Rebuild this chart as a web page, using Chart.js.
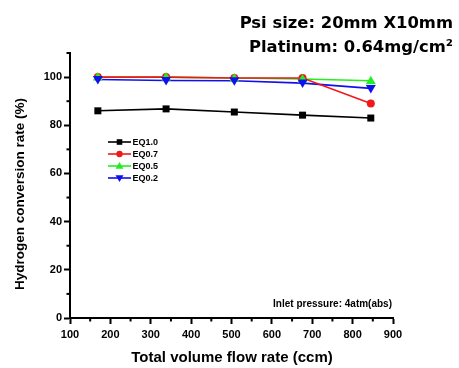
<!DOCTYPE html>
<html><head><meta charset="utf-8">
<script src="https://cdn.jsdelivr.net/npm/chart.js@4/dist/chart.umd.min.js"></script>
<style>html,body{margin:0;padding:0;background:#fff}#wrap{width:459px;height:368px;position:relative}</style>
</head><body><div id="wrap"><canvas id="c" width="459" height="368"></canvas></div>
<script>
const flowRates = [169, 338, 507, 676, 845];
const eq10 = [86.0, 86.8, 85.5, 84.2, 83.0];
const eq07 = [100.0, 100.0, 99.6, 99.6, 89.0];
const eq05 = [100.0, 100.0, 99.6, 99.2, 98.5];
const eq02 = [99.0, 98.6, 98.5, 97.5, 95.3];
const seriesLabels = ['EQ1.0', 'EQ0.7', 'EQ0.5', 'EQ0.2'];
const xTicks = [100, 200, 300, 400, 500, 600, 700, 800, 900];
const yTicks = [0, 20, 40, 60, 80, 100];
const headerLines = ['Psi size: 20mm X10mm', 'Platinum: 0.64mg/cm\u00B2'];
const noteText = 'Inlet pressure: 4atm(abs)';
const yTitle = 'Hydrogen conversion rate (%)';
const xTitle = 'Total volume flow rate (ccm)';

const colors = ['#000000', '#f01818', '#22ee22', '#1010ee'];
const shapes = ['rect', 'circle', 'triangle', 'triangleDown'];
const values = [eq10, eq07, eq05, eq02];

function drawShape(ctx, shape, x, y, color, s) {
  s = s || 1;
  ctx.save();
  ctx.fillStyle = color; ctx.strokeStyle = color;
  ctx.beginPath();
  if (shape === 'rect') { ctx.rect(x - 3.5 * s, y - 3.5 * s, 7 * s, 7 * s); }
  else if (shape === 'circle') { ctx.arc(x, y, 4 * s, 0, Math.PI * 2); }
  else if (shape === 'triangle') { ctx.moveTo(x, y - 5 * s); ctx.lineTo(x + 5 * s, y + 3.5 * s); ctx.lineTo(x - 5 * s, y + 3.5 * s); ctx.closePath(); }
  else { ctx.moveTo(x, y + 5 * s); ctx.lineTo(x + 5 * s, y - 3.5 * s); ctx.lineTo(x - 5 * s, y - 3.5 * s); ctx.closePath(); }
  ctx.fill();
  ctx.restore();
}

const datasets = values.map((v, i) => ({
  label: seriesLabels[i],
  data: flowRates.map((x, j) => ({ x: x, y: v[j] })),
  borderColor: colors[i],
  backgroundColor: colors[i],
  borderWidth: 1.6,
  pointRadius: 0,
  showLine: true,
  tension: 0,
  order: i
}));

const overlay = {
  id: 'overlay',
  afterDatasetsDraw(chart) {
    const ctx = chart.ctx;
    const xs = chart.scales.x, ys = chart.scales.y;
    chart.data.datasets.forEach((ds, i) => {
      ds.data.forEach(p => drawShape(ctx, shapes[i], xs.getPixelForValue(p.x), ys.getPixelForValue(p.y), colors[i]));
    });
    ctx.save();
    ctx.strokeStyle = '#000'; ctx.lineWidth = 2;
    for (let v = 150; v < 900; v += 100) {
      const px = xs.getPixelForValue(v);
      ctx.beginPath(); ctx.moveTo(px, ys.bottom); ctx.lineTo(px, ys.bottom + 3.5); ctx.stroke();
    }
    for (let v = 10; v <= 110; v += 20) {
      const py = ys.getPixelForValue(v);
      ctx.beginPath(); ctx.moveTo(xs.left, py); ctx.lineTo(xs.left - 3.5, py); ctx.stroke();
    }
    ctx.restore();
    // legend
    ctx.save();
    ctx.font = 'bold 9px "Liberation Sans", Arial, sans-serif';
    ctx.textBaseline = 'middle';
    chart.data.datasets.forEach((ds, i) => {
      const y = 142 + i * 12;
      ctx.strokeStyle = colors[i]; ctx.lineWidth = 1.6;
      ctx.beginPath(); ctx.moveTo(108, y); ctx.lineTo(131, y); ctx.stroke();
      drawShape(ctx, shapes[i], 119.5, y, colors[i], 0.8);
      ctx.fillStyle = '#000';
      ctx.fillText(ds.label, 132.5, y + 0.5);
    });
    ctx.restore();
    // note
    ctx.save();
    ctx.font = 'bold 10px "Liberation Sans", Arial, sans-serif';
    ctx.fillStyle = '#000'; ctx.textAlign = 'right'; ctx.textBaseline = 'middle';
    ctx.fillText(noteText, 392, 304);
    ctx.restore();
    // y title
    ctx.save();
    ctx.translate(20, 194);
    ctx.rotate(-Math.PI / 2);
    ctx.font = 'bold 13.5px "Liberation Sans", Arial, sans-serif';
    ctx.fillStyle = '#000'; ctx.textAlign = 'center'; ctx.textBaseline = 'middle';
    ctx.fillText(yTitle, 0, 0);
    ctx.restore();
    // x title
    ctx.save();
    ctx.font = 'bold 15px "Liberation Sans", Arial, sans-serif';
    ctx.fillStyle = '#000'; ctx.textAlign = 'center'; ctx.textBaseline = 'middle';
    ctx.fillText(xTitle, 232, 358);
    ctx.restore();
    // header
    ctx.save();
    ctx.font = 'bold 16.4px "DejaVu Sans", sans-serif';
    ctx.fillStyle = '#000'; ctx.textAlign = 'right'; ctx.textBaseline = 'middle';
    ctx.fillText(headerLines[0], 453, 24);
    ctx.fillText(headerLines[1], 453, 48);
    ctx.restore();
  }
};

new Chart(document.getElementById('c'), {
  type: 'scatter',
  data: { datasets: datasets },
  options: {
    responsive: false,
    animation: false,
    devicePixelRatio: 1,
    layout: { padding: { top: 53, right: 66, left: 0, bottom: 0 } },
    plugins: { legend: { display: false }, tooltip: { enabled: false } },
    scales: {
      x: {
        type: 'linear', min: 100, max: 900,
        afterBuildTicks(s) { s.ticks = xTicks.map(v => ({ value: v })); },
        afterFit(s) { s.height = 50; },
        border: { display: true, color: '#000', width: 2 },
        grid: { drawOnChartArea: false, drawTicks: true, tickLength: 6, tickWidth: 2, tickColor: '#000' },
        ticks: { color: '#000', font: { family: '"Liberation Sans", Arial', size: 11, weight: 'bold' }, padding: 4, maxRotation: 0 },
        title: { display: false }
      },
      y: {
        type: 'linear', min: 0, max: 110,
        afterBuildTicks(s) { s.ticks = yTicks.map(v => ({ value: v })); },
        afterFit(s) { s.width = 70; },
        border: { display: true, color: '#000', width: 2 },
        grid: { drawOnChartArea: false, drawTicks: true, tickLength: 6, tickWidth: 2, tickColor: '#000' },
        ticks: { color: '#000', font: { family: '"Liberation Sans", Arial', size: 11, weight: 'bold' }, padding: 2 },
        title: { display: false }
      }
    }
  },
  plugins: [overlay]
});
</script></body></html>
